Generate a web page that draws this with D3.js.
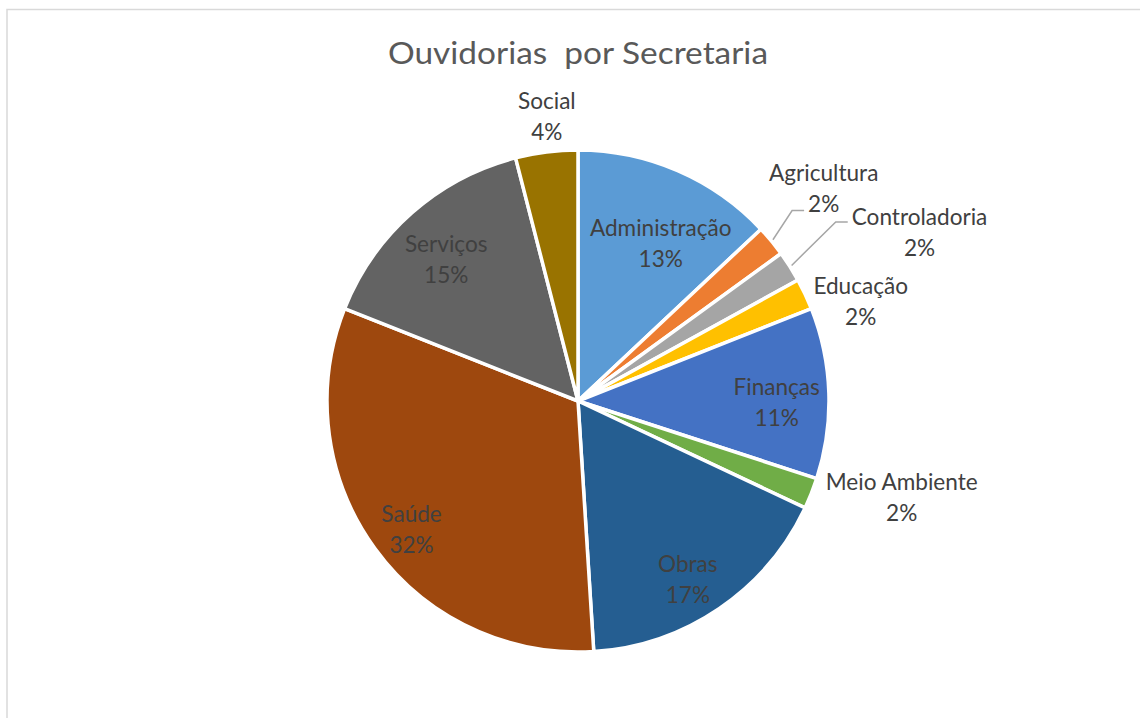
<!DOCTYPE html>
<html>
<head>
<meta charset="utf-8">
<script src="https://cdn.jsdelivr.net/npm/d3@7"></script>
<style>
  html, body { margin: 0; padding: 0; background: #fff; overflow: hidden; }
  text { font-family: Lato, "Open Sans", sans-serif; }
</style>
</head>
<body>
<svg id="chart" width="1140" height="718"></svg>
<script>
// Ouvidorias (ombudsman requests) by municipal department, in percent
const categories = ["Administração", "Agricultura", "Controladoria", "Educação", "Finanças",
                    "Meio Ambiente", "Obras", "Saúde", "Serviços", "Social"];
const shares = [13, 2, 2, 2, 11, 2, 17, 32, 15, 4];
const palette = ["#5B9BD5", "#ED7D31", "#A5A5A5", "#FFC000", "#4472C4",
                 "#70AD47", "#255E91", "#9E480E", "#636363", "#997300"];
const chartTitle = "Ouvidorias  por Secretaria";

// Label placement: nudge (px) from the slice centroid at 0.8 R; some sit outside with a leader
const labelNudge = {
  "Administração": [3, 30], "Agricultura": [91, -82], "Controladoria": [172, -58],
  "Educação": [101, -11.5], "Finanças": [-2, 11], "Meio Ambiente": [137, 26],
  "Obras": [-3, 15], "Saúde": [-4, 13], "Serviços": [1, 12.6], "Social": [-6, -82]
};
const leaderTo = { "Agricultura": "line2", "Controladoria": "line1" };

const cx = 578, cy = 401, R = 251;
const textColor = "#404040";

const svg = d3.select("#chart");

// chart frame
svg.append("rect")
  .attr("x", 7).attr("y", 9.5).attr("width", 1300).attr("height", 900)
  .attr("fill", "#fff").attr("stroke", "#d9d9d9").attr("stroke-width", 1.5);

// title, held to its box width
svg.append("text")
  .attr("x", cx).attr("y", 64)
  .attr("text-anchor", "middle")
  .style("white-space", "pre")
  .attr("fill", "#595959")
  .attr("font-size", 30)
  .attr("textLength", 380)
  .attr("lengthAdjust", "spacingAndGlyphs")
  .text(chartTitle);

// label font size fitted to the data label style
const probe = svg.append("text").attr("font-size", 20).text("Meio Ambiente");
const labelSize = 20 * 152 / probe.node().getComputedTextLength();
probe.remove();

const data = categories.map((c, i) => ({ name: c, value: shares[i], color: palette[i] }));
const total = d3.sum(shares);
const pct = d3.format(".0%");

const pie = d3.pie().sort(null).value(d => d.value);
const arcs = pie(data);

const arc = d3.arc().innerRadius(0).outerRadius(R);
const labelArc = d3.arc().innerRadius(R * 0.8).outerRadius(R * 0.8);

const g = svg.append("g").attr("transform", `translate(${cx},${cy})`);

g.selectAll("path.slice")
  .data(arcs)
  .join("path")
  .attr("class", "slice")
  .attr("d", arc)
  .attr("fill", d => d.data.color)
  .attr("stroke", "#fff")
  .attr("stroke-width", 3.5)
  .attr("stroke-linejoin", "round");

g.selectAll("g.label")
  .data(arcs)
  .join("g")
  .attr("class", "label")
  .each(function(d) {
    const [x0, y0] = labelArc.centroid(d);
    const [nx, ny] = labelNudge[d.data.name];
    const lx = x0 + nx, ly = y0 + ny;
    const sel = d3.select(this);
    const t1 = sel.append("text")
      .attr("x", lx).attr("y", ly - 10.5)
      .attr("text-anchor", "middle")
      .attr("font-size", labelSize)
      .attr("fill", textColor)
      .text(d.data.name);
    const t2 = sel.append("text")
      .attr("x", lx).attr("y", ly + 20.5)
      .attr("text-anchor", "middle")
      .attr("font-size", labelSize)
      .attr("fill", textColor)
      .text(pct(d.data.value / total));

    const mode = leaderTo[d.data.name];
    if (mode) {
      const mid = (d.startAngle + d.endAngle) / 2;
      const start = [Math.sin(mid) * (R + 2), -Math.cos(mid) * (R + 2)];
      let end;
      if (mode === "line2") {
        end = [lx - t2.node().getComputedTextLength() / 2 - 4, ly + 19.5];
      } else {
        end = [lx - t1.node().getComputedTextLength() / 2 - 4, ly - 13.5];
      }
      const elbow = [end[0] - 12, end[1]];
      sel.insert("path", "text")
        .attr("d", d3.line()([start, elbow, end]))
        .attr("fill", "none")
        .attr("stroke", "#A6A6A6")
        .attr("stroke-width", 1.5);
    }
  });
</script>
</body>
</html>
